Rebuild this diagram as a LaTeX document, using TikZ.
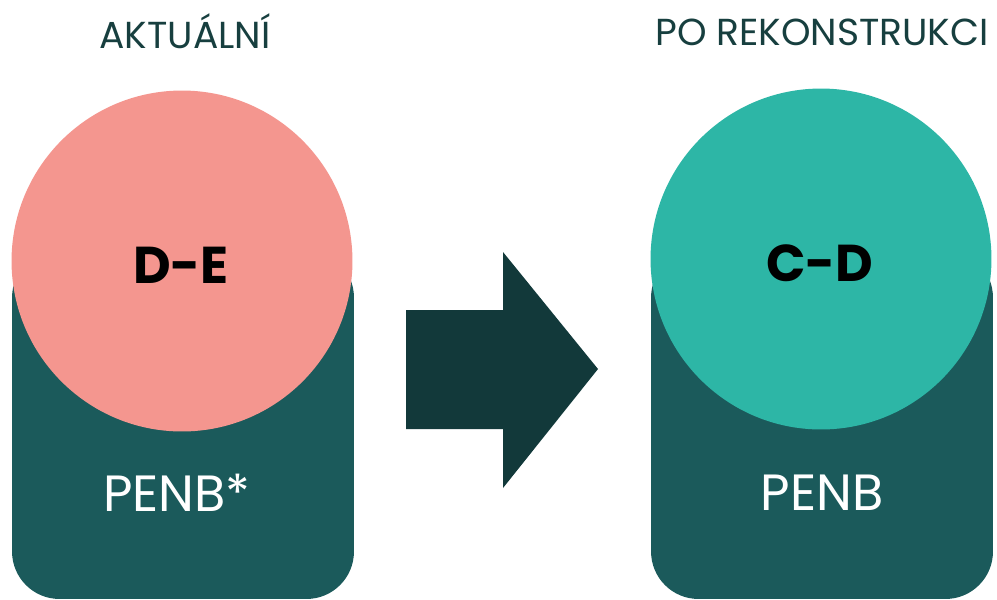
\documentclass[tikz,border=0pt]{standalone}
\usepackage{fontspec}
\setmainfont{Poppins}
\usetikzlibrary{positioning}
\definecolor{panelteal}{HTML}{1B5A5B}
\definecolor{oldpink}{HTML}{F4968F}
\definecolor{newteal}{HTML}{2DB6A6}
\definecolor{arrowdark}{HTML}{12393A}
\definecolor{titledark}{HTML}{173F3F}
\begin{document}
\begin{tikzpicture}[
         x=0.02cm, y=-0.02cm,
         panel/.style={rectangle, fill=panelteal, rounded corners=0.95cm,
                       minimum width=6.84cm, minimum height=6.98cm, inner sep=0pt},
         rating/.style={circle, minimum size=6.82cm, inner sep=0pt},
         heading/.style={font=\fontsize{21.4}{25}\selectfont, text=titledark, anchor=base},
         grade/.style={font=\fontsize{29.5}{34}\selectfont\bfseries, text=black, anchor=base},
         cert/.style={font=\fontsize{29}{34}\selectfont, text=white, anchor=base}
      ]
         \useasboundingbox (0,0) rectangle (997,599);

         % Panels
         \node[panel] (leftpanel) at (183,424.5) {};
         \node[panel] (rightpanel) at (822,424.5) {};

         % Circles
         \node[rating, fill=oldpink] (oldgrade) at (182,261) {};
         \node[rating, fill=newteal] (newgrade) at (821,259) {};

         % Arrow
         \fill[arrowdark] (406,310) -- (503,310) -- (503,252) -- (598,369)
            -- (503,488) -- (503,429) -- (406,429) -- cycle;

         % Texts
         \node[heading] (lefttitle) at (185,48) {AKTUÁLNÍ};
         \node[heading] (righttitle) at (822,45) {PO REKONSTRUKCI};
         \node[grade] (oldlabel) at (181,283) {D-E};
         \node[grade] (newlabel) at (820,281) {C-D};
         \node[cert] (oldcert) at (177,511) {PENB*};
         \node[cert] (newcert) at (822,510) {PENB};
      \end{tikzpicture}
\end{document}
